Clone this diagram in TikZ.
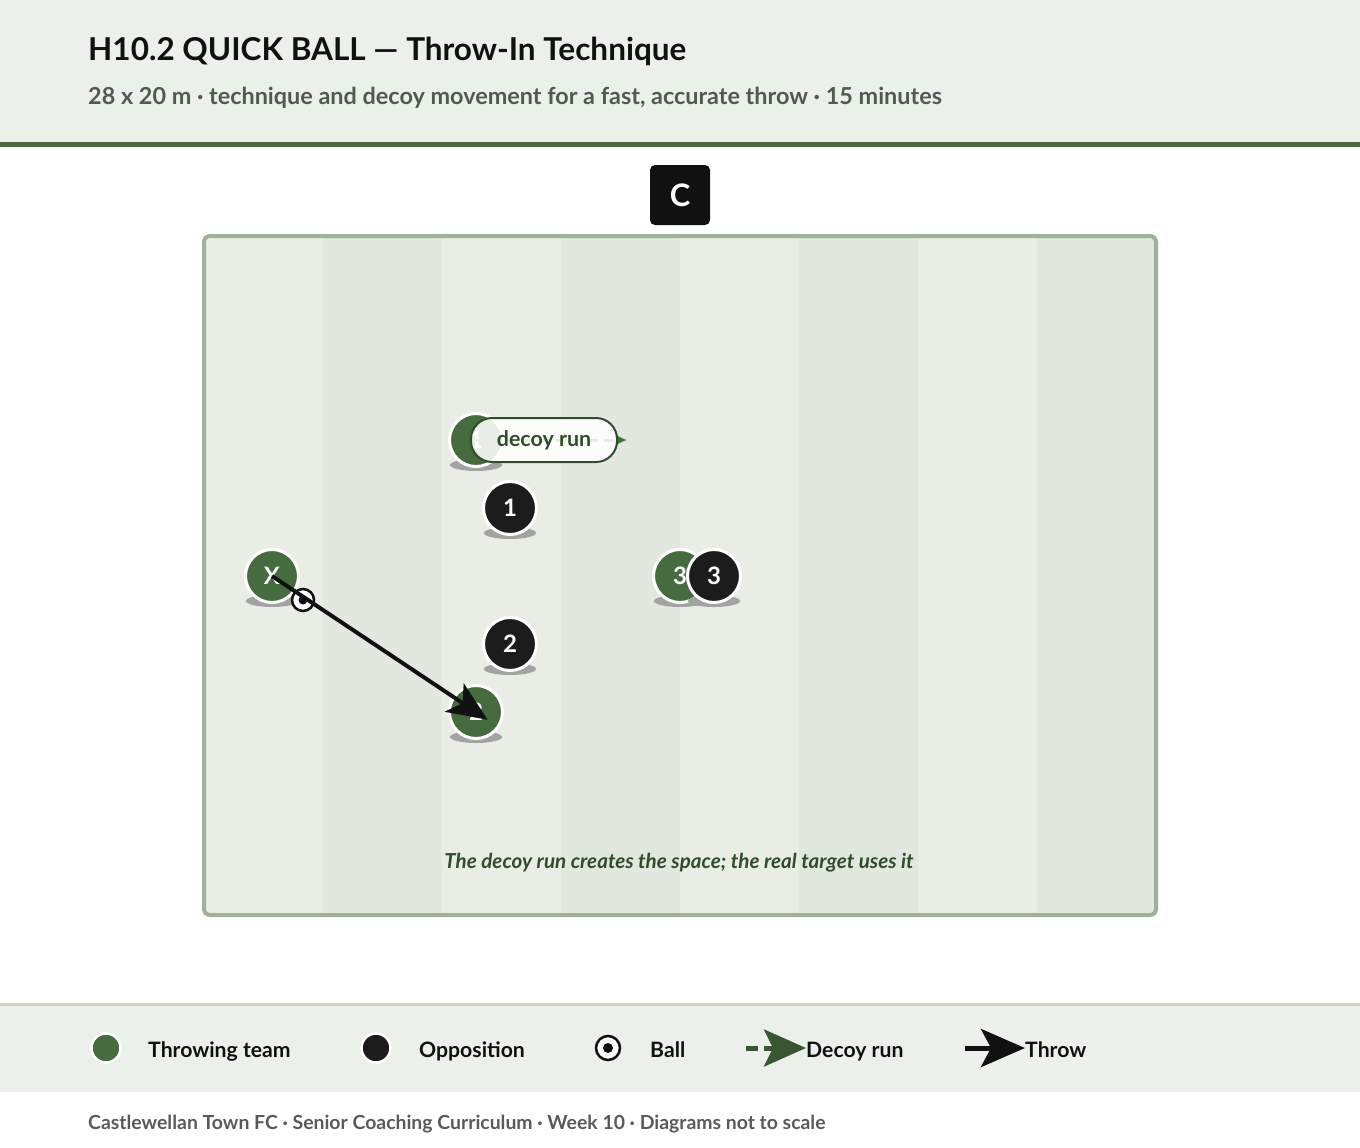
\documentclass[tikz,border=0pt]{standalone}
\usepackage{fontspec}
\setmainfont{Lato}
\usetikzlibrary{arrows.meta,calc}
\definecolor{hdrbg}{HTML}{ECF0EB}
\definecolor{hdrline}{HTML}{4A6B40}
\definecolor{pitchA}{HTML}{E9EDE6}
\definecolor{pitchB}{HTML}{E2E8DF}
\definecolor{pitchborder}{HTML}{9DB296}
\definecolor{tgreen}{HTML}{466B3E}
\definecolor{opp}{HTML}{1C1C1C}
\definecolor{darkgreen}{HTML}{2F4D2A}
\definecolor{subgray}{HTML}{4F5B4E}
\definecolor{footgray}{HTML}{5A5A5A}
\definecolor{footline}{HTML}{D6D3C8}
\definecolor{shadowc}{HTML}{A3A3A3}
\definecolor{ink}{HTML}{111111}
\tikzset{
  player/.style={circle, minimum size=53pt, inner sep=0pt, draw=white, line width=3pt,
    text=white, font=\fontsize{24}{24}\selectfont\bfseries},
  tplayer/.style={player, fill=tgreen},
  oplayer/.style={player, fill=opp},
  legdot/.style={circle, minimum size=29pt, inner sep=0pt, draw=white, line width=2.5pt},
  legtext/.style={anchor=base west, inner sep=0pt, text=ink, font=\fontsize{21.2}{21.2}\selectfont\bfseries},
  throwarrow/.style={draw=ink, line width=4pt, -{Stealth[length=40pt,width=34pt,inset=10pt]}},
  pill/.style={rectangle, rounded corners=21pt, minimum width=146pt, minimum height=44pt,
    draw=darkgreen, line width=2pt, fill=white, fill opacity=0.88, text opacity=1,
    text=darkgreen, font=\fontsize{21.4}{21.4}\selectfont\bfseries},
}
\newcommand{\shadowat}[2]{\fill[shadowc] (#1,#2+25) ellipse (26pt and 6pt);}
\begin{document}
\begin{tikzpicture}[x=1pt,y=-1pt]
\useasboundingbox (0,0) rectangle (1360,1148);
\fill[white] (0,0) rectangle (1360,1148);
% header
\fill[hdrbg] (0,0) rectangle (1360,142);
\fill[hdrline] (0,142) rectangle (1360,147);
\node[anchor=base west, inner sep=0pt, text=ink, font=\fontsize{31.5}{31.5}\selectfont\bfseries] (title) at (88,60) {H10.2 QUICK BALL — Throw-In Technique};
\node[anchor=base west, inner sep=0pt, text=subgray, font=\fontsize{23.4}{23.4}\selectfont\bfseries] (subtitle) at (88,104) {28 x 20 m · technique and decoy movement for a fast, accurate throw · 15 minutes};
% C box
\node[fill=ink, rounded corners=5pt, minimum size=60pt, inner sep=0pt, text=white, font=\fontsize{31}{31}\selectfont\bfseries] (cbox) at (680,195) {C};
% pitch stripes
\foreach \i in {0,...,7} {
  \pgfmathsetmacro{\xa}{204+119*\i}
  \pgfmathsetmacro{\xb}{204+119*(\i+1)}
  \ifodd\i \fill[pitchB] (\xa,236) rectangle (\xb,915); \else \fill[pitchA] (\xa,236) rectangle (\xb,915); \fi
}
\draw[pitchborder, line width=4pt, rounded corners=6pt] (204,236) rectangle (1156,915);
\node[anchor=base, inner sep=0pt, text=darkgreen, font=\fontsize{20.6}{20.6}\selectfont\bfseries\itshape] (note) at (679,868) {The decoy run creates the space; the real target uses it};
% players
\shadowat{476}{440}
\node[tplayer] (g1) at (476,440) {1};
\shadowat{510}{508}
\node[oplayer] (o1) at (510,508) {1};
\shadowat{272}{576}
\node[tplayer] (gX) at (272,576) {X};
\shadowat{510}{644}
\node[oplayer] (o2) at (510,644) {2};
\shadowat{476}{712}
\node[tplayer] (g2) at (476,712) {2};
\shadowat{680}{576}
\node[tplayer] (g3) at (680,576) {3};
\shadowat{714}{576}
\node[oplayer] (o3) at (714,576) {3};
% decoy run
\coordinate (decoyend) at (627,440);
\draw[tgreen, line width=3pt, dash pattern=on 10pt off 6pt, -{Latex[length=11pt,width=11pt]}] (g1.center) -- (decoyend);
\node[pill] (decoylabel) at (544,440) {decoy run};
% ball
\node[circle, minimum size=22pt, inner sep=0pt, draw=ink, line width=2.5pt, fill=white] (ball) at (303,600) {};
\fill[ink] (ball.center) circle (4.5pt);
% throw
\draw[throwarrow] (gX.center) -- ($(gX.center)!1.057!(g2.center)$);
% footer
\fill[footline] (0,1003) rectangle (1360,1006);
\fill[hdrbg] (0,1006) rectangle (1360,1092);
\node[legdot, fill=tgreen] (lg1) at (106,1048) {};
\node[legtext] (lt1) at (148,1057) {Throwing team};
\node[legdot, fill=opp] (lg2) at (376,1048) {};
\node[legtext] (lt2) at (419,1057) {Opposition};
\node[circle, minimum size=24pt, inner sep=0pt, draw=ink, line width=2.5pt, fill=white] (lg3) at (608,1048) {};
\fill[ink] (lg3.center) circle (5pt);
\node[legtext] (lt3) at (650,1057) {Ball};
\coordinate (ld1) at (746,1048);
\coordinate (ld2) at (806,1048);
\draw[tgreen!80!black, line width=5pt, dash pattern=on 12pt off 6pt, -{Stealth[length=42pt,width=37pt,inset=9pt]}] (ld1) -- (ld2);
\node[legtext] (lt4) at (806,1057) {Decoy run};
\coordinate (lth1) at (965,1048);
\coordinate (lth2) at (1025,1048);
\draw[ink, line width=5pt, -{Stealth[length=44pt,width=38pt,inset=10pt]}] (lth1) -- (lth2);
\node[legtext] (lt5) at (1025,1057) {Throw};
\node[anchor=base west, inner sep=0pt, text=footgray, font=\fontsize{19.4}{19.4}\selectfont\bfseries] (footer) at (88,1129) {Castlewellan Town FC · Senior Coaching Curriculum · Week 10 · Diagrams not to scale};
\end{tikzpicture}
\end{document}
